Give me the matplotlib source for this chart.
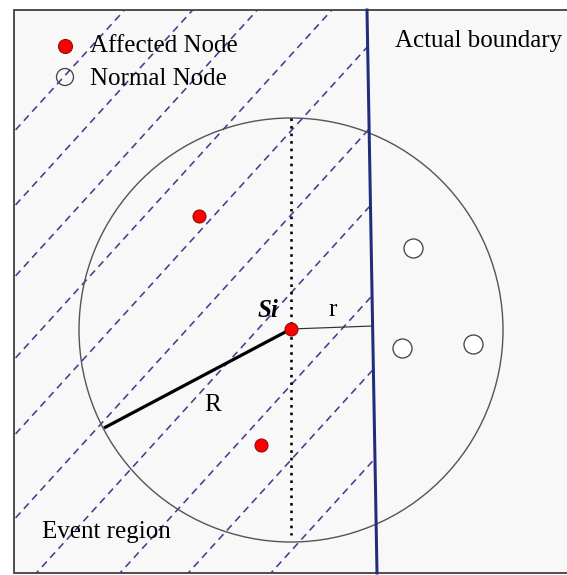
import matplotlib
matplotlib.use("Agg")
import matplotlib.pyplot as plt
from matplotlib.patches import Rectangle, Circle, Polygon
import numpy as np

# ---- diagram data (pixel-space coordinates of the schematic) ----
affected_x = [199, 261]
affected_y = [216, 445]
sensor_x = [291]
sensor_y = [329]
normal_x = [413, 402, 473]
normal_y = [248, 348, 344]
hatch_c = [147, 222, 293, 375, 451, 535, 613, 705, 780, 871]
hatch_slope = 1.1
boundary_x = [367, 377]
boundary_y = [10, 573]
sensing_radius = 212
legend_labels = ["Affected Node", "Normal Node"]

PX = 0.72  # points per pixel at dpi 100

fig = plt.figure(figsize=(5.67, 5.75), dpi=100)
ax = fig.add_axes([0, 0, 1, 1])
ax.set_xlim(0, 567)
ax.set_ylim(575, 0)
ax.axis("off")

serif = ["Liberation Serif", "DejaVu Serif"]
fs = 25 * PX

# frame
box = Rectangle((14, 10), 600, 563, facecolor="#f8f8f8", edgecolor="#3f3f3f",
                linewidth=1.8 * PX, zorder=0)
ax.add_patch(box)

# hatch lines clipped to the event region (left of the boundary)
clip = Polygon([(14, 10), (boundary_x[0], boundary_y[0]), (boundary_x[1], boundary_y[1]), (14, 573)],
               closed=True, transform=ax.transData, facecolor="none", edgecolor="none")
ax.add_patch(clip)
xs = np.array([-100, 700])
for c in hatch_c:
    ln, = ax.plot(xs, c - hatch_slope * xs, color="#4b3a8e", linewidth=1.6 * PX,
                  linestyle=(0, (4.5, 3.2)), zorder=1)
    ln.set_clip_path(clip)

# sensing circle
ax.add_patch(Circle((sensor_x[0], 330), sensing_radius, facecolor="none",
                    edgecolor="#555555", linewidth=1.4 * PX, zorder=2))

# dotted vertical line through the sensor
ax.plot([sensor_x[0], sensor_x[0]], [118, 535], color="black", linewidth=2.6 * PX,
        linestyle=(0, (1, 1.9)), zorder=3)

# actual boundary
ax.plot(boundary_x, boundary_y, color="#1f2d7a", linewidth=3.0 * PX, zorder=4)

# radius R
ax.plot([sensor_x[0], 104], [sensor_y[0], 428], color="black", linewidth=3.2 * PX,
        solid_capstyle="butt", zorder=4)
# distance r
ax.plot([sensor_x[0], 373], [sensor_y[0], 326], color="#333333", linewidth=1.2 * PX, zorder=4)

# nodes
ax.scatter(affected_x + sensor_x, affected_y + sensor_y, s=(13 * PX) ** 2,
           facecolor="#ff0000", edgecolor="#8b1010", linewidth=0.8, zorder=6)
ax.scatter(normal_x, normal_y, s=(19 * PX) ** 2, facecolor="white",
           edgecolor="#444444", linewidth=1.3 * PX, zorder=6)

# legend
ax.scatter([65], [46], s=(14 * PX) ** 2, facecolor="#ff0000", edgecolor="#8b1010",
           linewidth=0.8, zorder=6)
ax.scatter([65], [77], s=(17 * PX) ** 2, facecolor="none", edgecolor="#444444",
           linewidth=1.3 * PX, zorder=6)
ax.text(90, 52, legend_labels[0], fontsize=fs, family=serif, va="baseline", ha="left", zorder=7)
ax.text(90, 85, legend_labels[1], fontsize=fs, family=serif, va="baseline", ha="left", zorder=7)

# labels
ax.text(395, 47, "Actual boundary", fontsize=fs, family=serif, va="baseline", ha="left", zorder=7)
ax.text(42, 538, "Event region", fontsize=fs, family=serif, va="baseline", ha="left", zorder=7)
ax.text(258, 317, "Si", fontsize=fs, family=serif, fontweight="bold", fontstyle="italic",
        va="baseline", ha="left", zorder=7)
ax.text(333, 316, "r", fontsize=fs, family=serif, va="baseline", ha="center", zorder=7)
ax.text(213, 411, "R", fontsize=fs, family=serif, va="baseline", ha="center", zorder=7)

fig.savefig("out.png", dpi=100)
